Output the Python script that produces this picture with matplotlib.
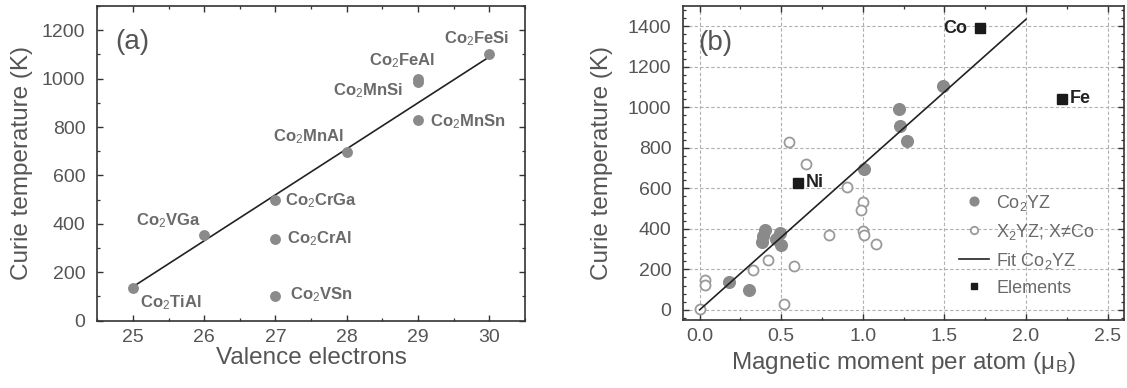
import numpy as np
import matplotlib
matplotlib.use('Agg')
import matplotlib.pyplot as plt
from matplotlib.ticker import MultipleLocator

plt.rcParams['font.family'] = ['Liberation Sans', 'DejaVu Sans']
plt.rcParams['mathtext.fontset'] = 'custom'
plt.rcParams['mathtext.rm'] = 'Liberation Sans'
plt.rcParams['mathtext.it'] = 'Liberation Sans:italic'
plt.rcParams['mathtext.bf'] = 'Liberation Sans:bold'

# (a) Curie temperature vs number of valence electrons
val_names = ['Co$_2$TiAl', 'Co$_2$VGa', 'Co$_2$CrGa', 'Co$_2$CrAl', 'Co$_2$VSn',
             'Co$_2$MnAl', 'Co$_2$MnSi', 'Co$_2$FeAl', 'Co$_2$MnSn', 'Co$_2$FeSi']
val_electrons = [25, 26, 27, 27, 27, 28, 29, 29, 29, 30]
val_tc = [137, 353, 497, 336, 102, 696, 985, 1000, 829, 1100]
val_fit_x = [25, 30]
val_fit_y = [140, 1090]

# label placement: offset in pixels and alignment
val_offsets = [(38, -15), (-36, 15), (10, 0), (12, 1), (15, 1),
               (-38, 16), (-15, -8), (-16, 18), (12, -2), (-13, 16)]
val_align = ['center', 'center', 'left', 'left', 'left',
             'center', 'right', 'center', 'left', 'center']

# (b) Curie temperature vs magnetic moment per atom
co2_m = [0.18, 0.30, 0.40, 0.39, 0.38, 0.49, 0.47, 0.50, 1.01, 1.22, 1.23, 1.27, 1.49]
co2_tc = [137, 100, 395, 365, 335, 380, 350, 318, 695, 990, 910, 832, 1103]

x2_m = [0.0, 0.03, 0.03, 0.33, 0.42, 0.52, 0.58, 0.55, 0.65, 0.79, 0.90,
        1.00, 0.99, 1.00, 1.01, 1.08]
x2_tc = [3, 145, 122, 199, 248, 28, 215, 827, 720, 368, 605,
         534, 495, 390, 368, 325]

elem_names = ['Co', 'Ni', 'Fe']
elem_m = [1.72, 0.60, 2.22]
elem_tc = [1390, 627, 1043]
elem_offsets = [(-13, 0), (8, 0), (8, 0)]
elem_align = ['right', 'left', 'left']

fit_m = [0.0, 2.0]
fit_tc = [0, 1435]

grey_dot = '#8a8a8a'
grey_txt = '#555555'

fig = plt.figure(figsize=(11.27, 3.88), dpi=100)
ax1 = fig.add_axes([0.0863, 0.1735, 0.3795, 0.811])
ax2 = fig.add_axes([0.6063, 0.1753, 0.3910, 0.809])

for ax in (ax1, ax2):
    ax.tick_params(which='both', direction='in', top=True, right=True,
                   colors='#333333', labelcolor=grey_txt, labelsize=14)
    ax.tick_params(which='major', length=4.5, width=1)
    ax.tick_params(which='minor', length=2.5, width=0.9)
    ax.tick_params(axis='x', pad=6)
    ax.tick_params(axis='y', pad=8.5)
    for s in ax.spines.values():
        s.set_color('#333333')
        s.set_linewidth(1.2)

# panel (a)
ax1.plot(val_fit_x, val_fit_y, color='#222222', lw=1.2, zorder=2)
ax1.plot(val_electrons, val_tc, 'o', ms=6.8, color=grey_dot, mec=grey_dot, zorder=3)
for name, x, y, off, ha in zip(val_names, val_electrons, val_tc, val_offsets, val_align):
    ax1.annotate(name, (x, y), xytext=off, textcoords='offset pixels',
                 ha=ha, va='center', fontsize=12, fontweight='bold', color='#6a6a6a')
ax1.text(0.082, 0.886, '(a)', transform=ax1.transAxes, ha='center', va='center',
         fontsize=20, color=grey_txt)
ax1.set_xlim(24.5, 30.5)
ax1.set_ylim(0, 1300)
ax1.xaxis.set_major_locator(MultipleLocator(1))
ax1.xaxis.set_minor_locator(MultipleLocator(0.5))
ax1.yaxis.set_major_locator(MultipleLocator(200))
ax1.yaxis.set_minor_locator(MultipleLocator(100))
ax1.set_xlabel('Valence electrons', fontsize=17.5, color=grey_txt)
ax1.set_ylabel('Curie temperature (K)', fontsize=17.5, color=grey_txt)
ax1.xaxis.set_label_coords(0.5, -0.085)
ax1.yaxis.set_label_coords(-0.15, 0.5)

# panel (b)
ax2.grid(True, which='major', color='#b0b0b0', ls=(0, (3, 2)), lw=0.8)
ax2.set_axisbelow(True)
ax2.plot(co2_m, co2_tc, 'o', ms=8.4, color=grey_dot, mec=grey_dot, zorder=3,
         label='Co$_2$YZ')
ax2.plot(x2_m, x2_tc, 'o', ms=7.2, mfc='white', mec='#9a9a9a', mew=1.3, zorder=3,
         label='X$_2$YZ; X≠Co')
ax2.plot(fit_m, fit_tc, color='#222222', lw=1.2, zorder=4, label='Fit Co$_2$YZ')
ax2.plot(elem_m, elem_tc, 's', ms=6.5, color='#1a1a1a', zorder=5, label='Elements')
for name, x, y, off, ha in zip(elem_names, elem_m, elem_tc, elem_offsets, elem_align):
    ax2.annotate(name, (x, y), xytext=off, textcoords='offset pixels',
                 ha=ha, va='center', fontsize=13, fontweight='bold', color='#222222')
ax2.text(0.072, 0.882, '(b)', transform=ax2.transAxes, ha='center', va='center',
         fontsize=20, color=grey_txt)
ax2.set_xlim(-0.1, 2.6)
ax2.set_ylim(-50, 1500)
ax2.xaxis.set_major_locator(MultipleLocator(0.5))
ax2.xaxis.set_minor_locator(MultipleLocator(0.25))
ax2.yaxis.set_major_locator(MultipleLocator(200))
ax2.yaxis.set_minor_locator(MultipleLocator(40))
ax2.set_xticks([0.0, 0.5, 1.0, 1.5, 2.0, 2.5])
ax2.set_xticklabels(['0.0', '0.5', '1.0', '1.5', '2.0', '2.5'])
ax2.set_xlabel('Magnetic moment per atom (μ$_\\mathrm{B}$)', fontsize=17.5, color=grey_txt)
ax2.set_ylabel('Curie temperature (K)', fontsize=17.5, color=grey_txt)
ax2.xaxis.set_label_coords(0.5, -0.097)
ax2.yaxis.set_label_coords(-0.16, 0.5)
leg = ax2.legend(loc='center left', bbox_to_anchor=(0.626, 0.24), frameon=False,
                 fontsize=13, handlelength=1.65, handletextpad=0.4, labelspacing=0.5,
                 borderpad=0, borderaxespad=0, markerscale=0.75)
for t in leg.get_texts():
    t.set_color('#6a6a6a')

fig.savefig('out.png', dpi=100)
